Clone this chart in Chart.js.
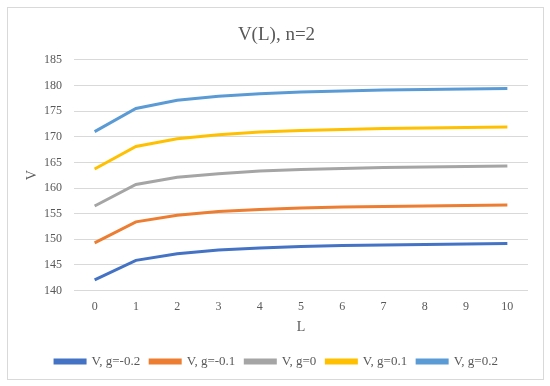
<!DOCTYPE html>
<html>
<head>
<meta charset="utf-8">
<script src="https://cdn.jsdelivr.net/npm/chart.js@4/dist/chart.umd.min.js"></script>
<style>
    html, body { margin: 0; padding: 0; background: #fff; }
    #wrap { position: relative; width: 550px; height: 386px; }
    #frame {
        position: absolute; left: 7px; top: 7px; width: 535px; height: 371px;
        border: 1px solid #d9d9d9;
    }
    #chart { position: absolute; left: 0; top: 0; }
</style>
</head>
<body>
<div id="wrap">
    <div id="frame"></div>
    <canvas id="chart" width="550" height="386"></canvas>
</div>
<script>
// Data
const lValues = ['0', '1', '2', '3', '4', '5', '6', '7', '8', '9', '10'];
const seriesNames = ['V, g=-0.2', 'V, g=-0.1', 'V, g=0', 'V, g=0.1', 'V, g=0.2'];
const vGm02 = [142.1, 145.9, 147.2, 147.9, 148.3, 148.6, 148.8, 148.9, 149.0, 149.1, 149.2];
const vGm01 = [149.3, 153.4, 154.7, 155.4, 155.8, 156.1, 156.3, 156.4, 156.5, 156.6, 156.7];
const vG0 = [156.5, 160.7, 162.1, 162.8, 163.3, 163.6, 163.8, 164.0, 164.1, 164.2, 164.3];
const vGp01 = [163.7, 168.1, 169.6, 170.4, 170.9, 171.2, 171.4, 171.6, 171.7, 171.8, 171.9];
const vGp02 = [171.0, 175.5, 177.1, 177.9, 178.4, 178.7, 178.9, 179.1, 179.2, 179.3, 179.4];
const colors = ['#4472C4', '#ED7D31', '#A5A5A5', '#FFC000', '#5B9BD5'];

const allSeries = [vGm02, vGm01, vG0, vGp01, vGp02];
const serif = "'Liberation Serif', 'Times New Roman', serif";
const textColor = '#595959';

const datasets = allSeries.map((values, i) => ({
    label: seriesNames[i],
    data: values,
    borderColor: colors[i],
    backgroundColor: colors[i],
    borderWidth: 3,
    pointRadius: 0,
    tension: 0,
    fill: false
}));

new Chart(document.getElementById('chart'), {
    type: 'line',
    data: { labels: lValues, datasets: datasets },
    options: {
        responsive: false,
        animation: false,
        layout: { padding: { left: 25, right: 22, top: 14, bottom: 8 } },
        plugins: {
            title: {
                display: true,
                text: 'V(L), n=2',
                color: textColor,
                font: { family: serif, size: 19, weight: 'normal' },
                padding: { top: 10, bottom: 13 }
            },
            legend: {
                position: 'bottom',
                labels: {
                    color: textColor,
                    font: { family: serif, size: 13 },
                    boxWidth: 30,
                    boxHeight: 3,
                    padding: 10
                }
            },
            tooltip: { enabled: false }
        },
        scales: {
            x: {
                offset: true,
                title: {
                    display: true,
                    text: 'L',
                    color: textColor,
                    font: { family: serif, size: 14, lineHeight: 1 },
                    padding: { top: -3, bottom: 11 }
                },
                grid: { display: false, drawTicks: false },
                border: { display: false },
                ticks: {
                    color: textColor,
                    font: { family: serif, size: 12 },
                    padding: 9,
                    maxRotation: 0
                }
            },
            y: {
                min: 140,
                max: 185,
                title: {
                    display: true,
                    text: 'V',
                    color: textColor,
                    font: { family: serif, size: 14, lineHeight: 1 },
                    padding: { top: 0, bottom: -7 }
                },
                grid: { color: '#d9d9d9', drawTicks: false, lineWidth: 1 },
                border: { display: false },
                ticks: {
                    stepSize: 5,
                    color: textColor,
                    font: { family: serif, size: 12 },
                    padding: 12
                }
            }
        }
    }
});
</script>
</body>
</html>
